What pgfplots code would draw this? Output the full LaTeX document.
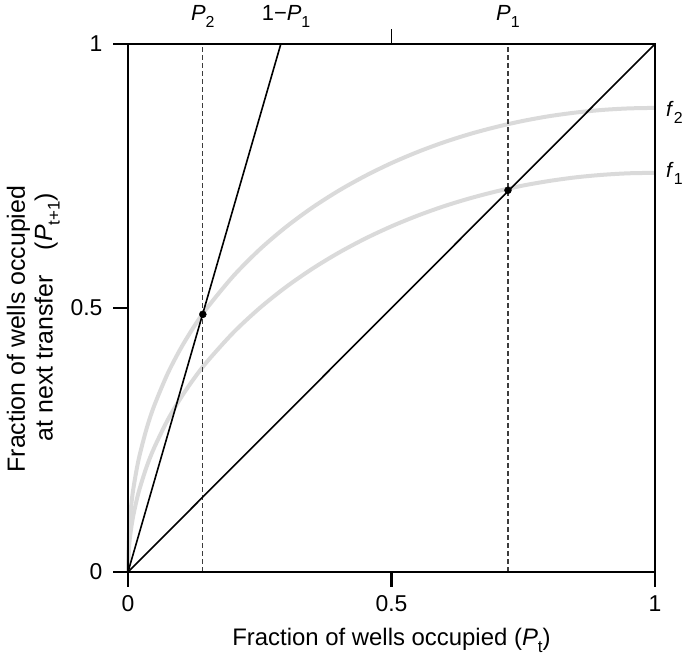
\documentclass[border=0pt]{standalone}
\usepackage{fontspec}
\setmainfont{Liberation Sans}
\usepackage{pgfplots}
\pgfplotsset{compat=1.18}
\definecolor{curvegray}{RGB}{218,218,218}
\definecolor{dashgray}{RGB}{60,60,60}
\newcommand\sub[1]{\raisebox{-7bp}{\fontsize{16}{16}\selectfont #1}}
\newcommand\subs[1]{\raisebox{-7bp}{\fontsize{17}{17}\selectfont #1}}
\begin{document}
\begin{tikzpicture}
\useasboundingbox (0,0) rectangle (685bp,664bp);
\begin{axis}[
  at={(128bp,92bp)}, anchor=south west,
  width=527bp, height=528bp, scale only axis,
  xmin=0, xmax=1, ymin=0, ymax=1,
  xtick={0,0.5,1}, ytick={0,0.5,1},
  xticklabels={0,0.5,1}, yticklabels={0,0.5,1},
  xtick pos=left, ytick pos=left,
  tick align=outside,
  major tick length=15bp,
  axis line style={line width=2.5bp},
  every tick/.style={black, line width=2.5bp},
  tick label style={font=\fontsize{23}{27}\selectfont},
  yticklabel style={xshift=-7bp},
  xticklabel style={yshift=-5bp},
  /pgf/number format/assume math mode=true,
  label style={font=\fontsize{24}{28}\selectfont},
  xlabel={Fraction of wells occupied (\textit{P}\subs{t})},
  xlabel style={yshift=-10bp},
  ylabel={\fontsize{25}{27}\selectfont Fraction of wells occupied\\\fontsize{25}{27}\selectfont at next transfer\quad(\textit{P}\subs{t+1})\hspace*{7bp}},
  ylabel style={align=right, at={(ticklabel cs:0.46)}, yshift=4bp},
  axis on top,
  clip=false,
]
% f1 curve
\addplot[curvegray, line width=4bp, smooth, tension=0.5] table {
x y
0 0
0.002 0.0478
0.005 0.0755
0.01 0.1067
0.02 0.1504
0.035 0.1983
0.05 0.2360
0.075 0.2873
0.1 0.3295
0.125 0.3660
0.15 0.3983
0.2 0.4536
0.25 0.5000
0.3 0.5399
0.35 0.5745
0.4 0.6048
0.45 0.6314
0.5 0.6547
0.55 0.6751
0.6 0.6929
0.65 0.7081
0.7 0.7211
0.75 0.7320
0.8 0.7407
0.85 0.7475
0.9 0.7522
0.95 0.7551
1 0.756
};
% f2 curve
\addplot[curvegray, line width=4bp, smooth, tension=0.5] table {
x y
0 0
0.002 0.0774
0.005 0.1158
0.01 0.1568
0.02 0.2123
0.035 0.2706
0.05 0.3156
0.075 0.3752
0.1 0.4233
0.125 0.4643
0.15 0.5001
0.2 0.5607
0.25 0.6110
0.3 0.6536
0.35 0.6904
0.4 0.7223
0.45 0.7501
0.5 0.7745
0.55 0.7957
0.6 0.8141
0.65 0.8299
0.7 0.8432
0.75 0.8544
0.8 0.8634
0.85 0.8702
0.9 0.8751
0.95 0.8780
1 0.879
};
% dashed verticals
\addplot[dashgray, line width=1.1bp, dash pattern=on 5bp off 3bp] coordinates {(0.142,0) (0.142,1)};
\addplot[dashgray, line width=1.1bp, dash pattern=on 5bp off 3bp] coordinates {(0.721,0) (0.721,1)};
% black lines
\addplot[black, line width=1.6bp] coordinates {(0,0) (1,1)};
\addplot[black, line width=1.6bp] coordinates {(0,0) (0.29,1)};
% equilibrium points
\addplot[only marks, mark=*, mark size=3.5bp, black] coordinates {(0.142,0.488) (0.721,0.723)};
% top tick and labels
\draw[line width=1bp] (axis cs:0.5,1) -- ++(0,15bp);
\node[anchor=base, font=\fontsize{22}{24}\selectfont] at ([yshift=23bp]axis cs:0.142,1) {\textit{P}\sub{2}};
\node[anchor=base, font=\fontsize{22}{24}\selectfont] at ([yshift=23bp]axis cs:0.30,1) {1−\textit{P}\sub{1}};
\node[anchor=base, font=\fontsize{22}{24}\selectfont] at ([yshift=23bp]axis cs:0.721,1) {\textit{P}\sub{1}};
% right labels
\node[anchor=base west, inner sep=0pt, font=\fontsize{21}{23}\selectfont] at ([xshift=11bp, yshift=-9bp]axis cs:1,0.879) {\textit{f}\sub{2}};
\node[anchor=base west, inner sep=0pt, font=\fontsize{21}{23}\selectfont] at ([xshift=11bp, yshift=-5bp]axis cs:1,0.756) {\textit{f}\sub{1}};
\end{axis}
\end{tikzpicture}
\end{document}
